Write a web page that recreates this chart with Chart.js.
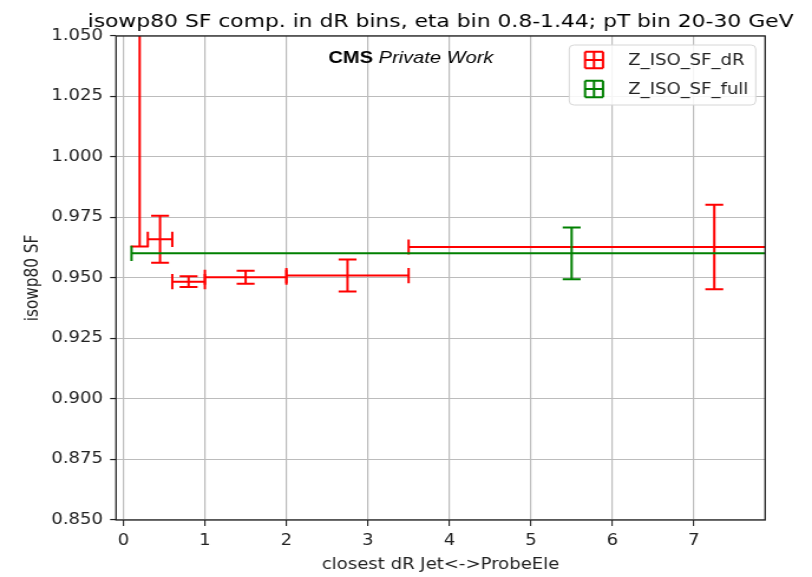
<!DOCTYPE html>
<html>
<head>
<meta charset="utf-8">
<script src="https://cdn.jsdelivr.net/npm/chart.js@4.4.1/dist/chart.umd.min.js"></script>
<style>
  html, body { margin: 0; padding: 0; background: #ffffff; overflow: hidden; }
  #c { width: 812px; height: 577px; display: block; }
</style>
</head>
<body>
<!-- the figure is drawn on a 688px-wide bitmap and shown 812px wide -->
<canvas id="c" width="688" height="577" style="width:812px;height:577px;"></canvas>
<script>
// Scale-factor comparison in dR bins (eta 0.8-1.44, pT 20-30 GeV)
const chartTitle = 'isowp80 SF comp. in dR bins, eta bin 0.8-1.44; pT bin 20-30 GeV';
const seriesNames = ['Z_ISO_SF_dR', 'Z_ISO_SF_full'];

// per-dR-bin measurement: bin edges, centre, SF and its uncertainty
const drLow    = [0.1, 0.3, 0.6, 1.0, 2.0, 3.5];
const drHigh   = [0.3, 0.6, 1.0, 2.0, 3.5, 11.0];
const drCenter = [0.2, 0.45, 0.8, 1.5, 2.75, 7.25];
const sfDR     = [1.2, 0.966, 0.9485, 0.9503, 0.951, 0.9628];
const sfDRErr  = [0.237, 0.0097, 0.0022, 0.0027, 0.0066, 0.0175];

// inclusive measurement
const fullLow    = [0.1];
const fullHigh   = [10.9];
const fullCenter = [5.5];
const sfFull     = [0.9602];
const sfFullErr  = [0.0107];

// axis ticks
const xTicks = [0, 1, 2, 3, 4, 5, 6, 7];
const yTicks = [0.85, 0.875, 0.9, 0.925, 0.95, 0.975, 1.0, 1.025, 1.05];

const RED = '#ff0000';
const GREEN = '#008000';
const FONT = "'DejaVu Sans', sans-serif";
const CAP = 7.6;   // half cap size, px

function points(cx, lo, hi, v, e) {
  return cx.map((c, i) => ({ x: c, y: v[i], xLo: lo[i], xHi: hi[i], yLo: v[i] - e[i], yHi: v[i] + e[i] }));
}

// draws x/y error bars with caps for every data point through the chart scales
const errorBars = {
  id: 'errorBars',
  afterDatasetsDraw(chart) {
    const { ctx, chartArea: a, scales: { x, y } } = chart;
    ctx.save();
    ctx.beginPath();
    ctx.rect(a.left, a.top, a.right - a.left, a.bottom - a.top);
    ctx.clip();
    chart.data.datasets.forEach(ds => {
      ctx.strokeStyle = ds.borderColor;
      ctx.lineWidth = 2;
      ctx.lineCap = 'butt';
      ds.data.forEach(p => {
        const px = x.getPixelForValue(p.x), py = y.getPixelForValue(p.y);
        const x0 = x.getPixelForValue(p.xLo), x1 = x.getPixelForValue(p.xHi);
        const y0 = y.getPixelForValue(p.yLo), y1 = y.getPixelForValue(p.yHi);
        ctx.beginPath();
        ctx.moveTo(x0, py); ctx.lineTo(x1, py);
        ctx.moveTo(px, y0); ctx.lineTo(px, y1);
        ctx.moveTo(x0, py - CAP); ctx.lineTo(x0, py + CAP);
        ctx.moveTo(x1, py - CAP); ctx.lineTo(x1, py + CAP);
        ctx.moveTo(px - CAP, y0); ctx.lineTo(px + CAP, y0);
        ctx.moveTo(px - CAP, y1); ctx.lineTo(px + CAP, y1);
        ctx.stroke();
      });
    });
    ctx.restore();
  }
};

// title, axes frame, CMS label and legend
const decorations = {
  id: 'decorations',
  afterDraw(chart) {
    const { ctx, chartArea: a } = chart;
    ctx.save();
    ctx.strokeStyle = '#222';
    ctx.lineWidth = 1.3;
    ctx.strokeRect(a.left, a.top, a.right - a.left, a.bottom - a.top);

    // title centred over the plot area
    ctx.fillStyle = '#000';
    ctx.font = '18.5px ' + FONT;
    ctx.textAlign = 'center';
    ctx.textBaseline = 'alphabetic';
    ctx.fillText(chartTitle, (a.left + a.right) / 2, 27.3);
    ctx.textAlign = 'left';

    // CMS Private Work
    ctx.font = "bold 17px 'Liberation Sans', Arial, sans-serif";
    const tx = a.left + 180, ty = 63;
    ctx.fillText('CMS', tx, ty);
    const w = ctx.measureText('CMS ').width;
    ctx.font = "italic 17px 'Liberation Sans', Arial, sans-serif";
    ctx.fillText('Private Work', tx + w, ty);

    // legend
    const lx = a.right - 166, ly = a.top + 9, lw = 158, lh = 60, r = 4;
    ctx.beginPath();
    ctx.moveTo(lx + r, ly);
    ctx.arcTo(lx + lw, ly, lx + lw, ly + lh, r);
    ctx.arcTo(lx + lw, ly + lh, lx, ly + lh, r);
    ctx.arcTo(lx, ly + lh, lx, ly, r);
    ctx.arcTo(lx, ly, lx + lw, ly, r);
    ctx.closePath();
    ctx.fillStyle = 'rgba(255,255,255,0.85)';
    ctx.fill();
    ctx.strokeStyle = '#d6d6d6';
    ctx.lineWidth = 1;
    ctx.stroke();

    const colors = [RED, GREEN];
    seriesNames.forEach((name, i) => {
      const cy = ly + 15 + i * 29;
      const cx = lx + 21;
      const hw = 7.6, hh = 8.3;
      ctx.strokeStyle = colors[i];
      ctx.lineWidth = 2;
      ctx.beginPath();
      ctx.moveTo(cx - hw, cy); ctx.lineTo(cx + hw, cy);
      ctx.moveTo(cx, cy - hh); ctx.lineTo(cx, cy + hh);
      ctx.moveTo(cx - hw, cy - hh); ctx.lineTo(cx - hw, cy + hh);
      ctx.moveTo(cx + hw, cy - hh); ctx.lineTo(cx + hw, cy + hh);
      ctx.moveTo(cx - hw, cy - hh); ctx.lineTo(cx + hw, cy - hh);
      ctx.moveTo(cx - hw, cy + hh); ctx.lineTo(cx + hw, cy + hh);
      ctx.stroke();
      ctx.fillStyle = '#222';
      ctx.font = '15.3px ' + FONT;
      ctx.textBaseline = 'middle';
      ctx.fillText(name, lx + 50, cy + 1);
    });
    ctx.restore();
  }
};

new Chart(document.getElementById('c'), {
  type: 'scatter',
  data: {
    datasets: [
      { label: seriesNames[0], data: points(drCenter, drLow, drHigh, sfDR, sfDRErr),
        borderColor: RED, backgroundColor: RED, pointRadius: 0, showLine: false },
      { label: seriesNames[1], data: points(fullCenter, fullLow, fullHigh, sfFull, sfFullErr),
        borderColor: GREEN, backgroundColor: GREEN, pointRadius: 0, showLine: false }
    ]
  },
  options: {
    responsive: false,
    animation: false,
    events: [],
    devicePixelRatio: 1,
    layout: { padding: { left: 0, right: 39.7, top: 36, bottom: 0 } },
    plugins: {
      legend: { display: false },
      tooltip: { enabled: false },
      title: { display: false }
    },
    scales: {
      x: {
        type: 'linear',
        min: -0.09,
        max: 7.874,
        afterBuildTicks: s => { s.ticks = xTicks.map(v => ({ value: v })); },
        afterFit: s => { s.height = 57; },
        grid: { color: '#bcbcbc', lineWidth: 1.2, drawTicks: true, tickLength: 6, tickColor: '#222', tickWidth: 1.1 },
        border: { display: false },
        ticks: { color: '#222', font: { family: FONT, size: 15.3 }, padding: 6, maxRotation: 0,
                 callback: v => String(v) },
        title: { display: true, text: 'closest dR Jet<->ProbeEle', color: '#222',
                 font: { family: FONT, size: 15.3 }, padding: { top: 0, bottom: 2.8 } }
      },
      y: {
        type: 'linear',
        min: 0.85,
        max: 1.05,
        afterBuildTicks: s => { s.ticks = yTicks.map(v => ({ value: v })); },
        afterFit: s => { s.width = 98.3; },
        grid: { color: '#bcbcbc', lineWidth: 1.1, drawTicks: true, tickLength: 5, tickColor: '#222', tickWidth: 1.2 },
        border: { display: false },
        ticks: { color: '#222', font: { family: FONT, size: 15.3 }, padding: 6,
                 callback: v => v.toFixed(3) },
        title: { display: true, text: 'isowp80 SF', color: '#222',
                 font: { family: FONT, size: 15.3 }, padding: { top: 19, bottom: 0 } }
      }
    }
  },
  plugins: [errorBars, decorations]
});
</script>
</body>
</html>
